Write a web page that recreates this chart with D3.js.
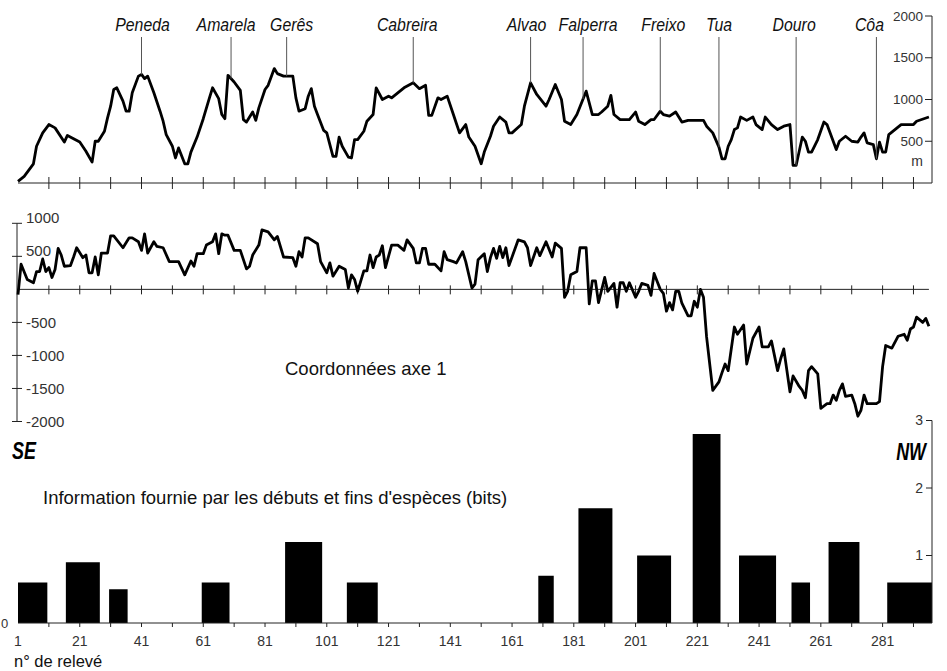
<!DOCTYPE html>
<html><head><meta charset="utf-8">
<script src="https://cdn.jsdelivr.net/npm/d3@7"></script>
<style>
body{margin:0;background:#fff}
svg{display:block;font-family:"Liberation Sans",Arial,sans-serif}
</style></head><body>
<svg id="chart" width="947" height="671"></svg>
<script>
// altitude profile (m) along the transect, by record number
var elevRec = [1,3,6,7,9,11,13,16,17,21,23,25,26,27,29,30,31,32,33,35,36,37,38,40,41,42,43,45,47,48,49,51,52,53,55,56,57,59,61,63,64,66,67,68,69,71,73,74,75,77,78,79,81,82,84,85,87,90,91,92,94,95,96,97,98,100,101,103,104,105,106,108,109,110,111,113,114,116,117,119,121,122,124,126,129,131,133,134,135,137,138,140,142,143,144,146,147,149,151,152,154,155,157,159,160,161,164,165,167,169,172,173,175,177,178,180,182,185,187,189,190,192,193,194,196,199,201,202,204,206,207,209,210,212,214,216,218,223,224,226,228,229,230,231,232,233,234,235,237,239,240,242,243,245,247,249,251,252,253,255,256,257,258,260,262,263,266,267,269,271,273,274,275,276,278,279,280,281,282,283,285,287,291,292,296];
var elevVal = [20,80,230,440,600,700,660,490,570,490,380,250,500,500,620,780,920,1120,1140,980,860,860,1080,1280,1300,1250,1280,1080,860,740,580,440,300,420,230,230,370,550,770,1020,1140,1010,820,770,1290,1210,1110,760,730,850,750,900,1120,1170,1370,1310,1280,1280,1020,860,890,1040,1130,920,820,630,600,320,320,550,440,310,300,520,520,620,740,820,1140,1000,1040,1020,1080,1140,1200,1130,1170,810,810,1020,1000,1040,820,710,600,700,550,440,230,370,560,680,790,730,600,600,700,920,1200,1060,920,1000,1180,1000,740,700,820,1100,820,820,850,920,1050,820,760,760,850,740,700,760,760,860,820,800,850,730,750,750,680,600,430,290,290,440,520,640,660,790,750,790,700,640,790,700,640,680,700,210,210,550,500,370,370,520,730,700,400,500,560,500,490,550,600,480,460,290,490,370,370,580,640,700,700,740,790];

// coordinates on axis 1
var coordRec = [1,2,4,6,7,8,9,10,11,12,13,14,15,16,18,19,20,22,23,24,25,26,27,28,30,31,32,35,37,38,40,41,42,43,45,46,48,50,53,55,57,58,59,61,62,64,65,66,67,68,69,71,73,75,76,77,79,80,82,84,85,87,90,91,92,93,94,95,98,99,101,102,103,105,107,108,109,110,111,113,114,115,116,117,118,119,120,122,124,126,127,129,130,131,132,133,134,136,138,139,140,142,143,145,146,148,149,150,152,153,154,155,156,157,158,159,160,163,165,166,167,169,170,172,174,175,177,178,179,180,182,183,185,186,187,188,189,191,192,193,194,195,196,197,198,199,201,202,203,205,206,207,208,209,210,211,212,213,214,215,216,218,219,220,221,222,223,224,226,228,229,230,231,233,234,236,237,239,241,242,244,245,247,248,249,251,252,254,255,256,257,258,260,261,263,264,265,266,267,268,269,271,272,273,274,275,276,279,280,281,282,284,286,288,289,290,291,292,294,295,296];
var coordVal = [-80,380,150,100,270,270,460,270,330,180,300,620,520,350,360,490,630,480,520,250,250,490,220,550,550,810,810,630,780,780,720,590,840,550,720,650,630,420,420,220,430,350,540,540,670,720,840,540,840,820,820,590,590,310,350,520,670,900,870,750,800,490,480,350,570,490,780,780,690,420,250,400,200,350,300,20,220,150,-30,280,280,520,330,490,520,660,330,670,670,590,750,620,400,400,620,620,380,380,280,570,450,420,400,570,420,20,80,450,540,270,480,620,470,650,480,630,360,750,720,630,360,630,510,720,490,700,620,-120,-30,220,270,630,630,-220,130,130,-200,180,-30,30,90,-270,100,100,-30,100,-120,-30,90,60,-90,240,120,0,-60,-330,-200,-310,-30,-30,-210,-400,-400,-180,-270,0,-120,-720,-1530,-1400,-1260,-1130,-1230,-570,-680,-540,-1130,-740,-570,-870,-870,-780,-1230,-1050,-900,-1550,-1310,-1470,-1530,-1640,-1230,-1170,-1280,-1800,-1730,-1730,-1600,-1680,-1530,-1430,-1620,-1600,-1730,-1920,-1830,-1600,-1730,-1730,-1700,-1170,-850,-890,-710,-680,-770,-600,-570,-420,-500,-440,-560];

// named summits / valleys
var peakNames = ['Peneda','Amarela','Gerês','Cabreira','Alvao','Falperra','Freixo','Tua','Douro','Côa'];
var peakRec = [41,70,88,129,167,184,209,228,253,279];

// information from species beginnings and ends (bits)
var barFrom = [1,17,31,61,88,108,170,183,202,220,235,252,264,283];
var barTo = [10,27,36,69,99,117,174,193,212,228,246,257,273,297];
var barBits = [0.6,0.9,0.5,0.6,1.2,0.6,0.7,1.7,1.0,2.8,1.0,0.6,1.2,0.6];

var elevTicks = [500,1000,1500,2000];
var coordTicks = [1000,500,-500,-1000,-1500,-2000];
var bitTicks = [1,2,3];
var recLabels = [1,21,41,61,81,101,121,141,161,181,201,221,241,261,281];

var svg = d3.select('#chart');
svg.append('rect').attr('width',947).attr('height',671).attr('fill','white');

var x = d3.scaleLinear().domain([1,297]).range([18,932]);
var yElev = d3.scaleLinear().domain([0,2000]).range([183,16]);
var yCoord = d3.scaleLinear().domain([-2000,1000]).range([421.5,223.3]);
var yBits = d3.scaleLinear().domain([0,3]).range([623,420.5]);
var tickRecs = d3.range(11,292,10);
var ink = '#222';
// names are not quite centred on their leader lines in the figure
var nameShift = [1,-5,5,-6,-4,5,3,0,-2,-7];

function hline(g,x1,x2,y){
    g.append('line').attr('x1',x1).attr('x2',x2).attr('y1',y).attr('y2',y).attr('stroke',ink).attr('stroke-width',1);
}
function vline(g,xx,y1,y2,col){
    g.append('line').attr('x1',xx).attr('x2',xx).attr('y1',y1).attr('y2',y2).attr('stroke',col||ink).attr('stroke-width',1);
}
// text squeezed horizontally like the condensed type of the figure
function txt(g,xx,yy,s,size,opt){
    opt = opt || {};
    return g.append('text')
        .attr('transform','translate('+xx+','+yy+') scale('+(opt.sx||1)+',1)')
        .attr('text-anchor',opt.anchor||'start')
        .attr('dy',opt.dy||0)
        .attr('font-size',size)
        .attr('font-style',opt.style||'normal')
        .attr('font-weight',opt.weight||'normal')
        .attr('fill',opt.fill||'#111')
        .text(s);
}

// ---------- top: altitude profile ----------
var gTop = svg.append('g');
hline(gTop, x(1), x(297), yElev(0));
tickRecs.forEach(function(r){ vline(gTop, x(r), yElev(0)-6, yElev(0)+6); });
vline(gTop, x(297), yElev(2000), yElev(0));
elevTicks.forEach(function(v){
    hline(gTop, x(297)-7, x(297), yElev(v));
    txt(gTop, x(297)-9, yElev(v), v, 13.5, {anchor:'end', dy:'0.35em', fill:'#333'});
});
txt(gTop, 917, 166, 'm', 14, {anchor:'middle', fill:'#333'});

var elevPts = elevRec.map(function(r,i){ return [r, elevVal[i]]; });
gTop.append('path')
    .attr('d', d3.line().x(function(d){return x(d[0]);}).y(function(d){return yElev(d[1]);})(elevPts))
    .attr('fill','none').attr('stroke','black').attr('stroke-width',2.8).attr('stroke-linejoin','round');

function elevAt(r){
    var i = d3.bisector(function(d){return d[0];}).left(elevPts, r);
    if (i <= 0) return elevPts[0][1];
    if (i >= elevPts.length) return elevPts[elevPts.length-1][1];
    var a = elevPts[i-1], b = elevPts[i];
    return a[1] + (b[1]-a[1])*(r-a[0])/(b[0]-a[0]);
}
peakNames.forEach(function(name,i){
    var px = x(peakRec[i]);
    vline(gTop, px, 37, yElev(elevAt(peakRec[i])), '#555');
    txt(gTop, px + nameShift[i], 31, name, 18, {anchor:'middle', style:'italic', sx:0.88});
});

// ---------- middle: coordinates on axis 1 ----------
var gMid = svg.append('g');
vline(gMid, 17, yCoord(1000), yCoord(-2000));
coordTicks.forEach(function(v){
    hline(gMid, 12, 22, yCoord(v));
    txt(gMid, 26, yCoord(v), v, 15, {dy: v>0 ? '-0.05em' : '0.35em', fill:'#333'});
});
hline(gMid, 17, x(296), yCoord(0));
tickRecs.forEach(function(r){ vline(gMid, x(r), yCoord(0)-4, yCoord(0)+5); });
var coordPts = coordRec.map(function(r,i){ return [r, coordVal[i]]; });
gMid.append('path')
    .attr('d', d3.line().x(function(d){return x(d[0]);}).y(function(d){return yCoord(d[1]);})(coordPts))
    .attr('fill','none').attr('stroke','black').attr('stroke-width',2.8).attr('stroke-linejoin','round');
txt(gMid, 285, 375, 'Coordonnées axe 1', 18.5, {sx:1});

txt(svg, 12, 459, 'SE', 23, {style:'italic', weight:'bold', sx:0.78, fill:'black'});
txt(svg, 926, 460, 'NW', 23, {anchor:'end', style:'italic', weight:'bold', sx:0.78, fill:'black'});

// ---------- bottom: information bars ----------
var gBot = svg.append('g');
gBot.selectAll('rect.bar').data(barBits).enter().append('rect')
    .attr('class','bar')
    .attr('x', function(d,i){ return Math.max(x(1), x(barFrom[i]-0.5)); })
    .attr('width', function(d,i){ return Math.min(x(297), x(barTo[i]+0.5)) - Math.max(x(1), x(barFrom[i]-0.5)); })
    .attr('y', function(d){ return yBits(d); })
    .attr('height', function(d){ return yBits(0) - yBits(d); })
    .attr('fill','black');
hline(gBot, x(1), x(297), yBits(0));
tickRecs.forEach(function(r){ vline(gBot, x(r), yBits(0), yBits(0)+4); });
recLabels.forEach(function(r){
    txt(gBot, x(r), 646, r, 14, {anchor:'middle', fill:'#333'});
});
vline(gBot, x(297), yBits(3), yBits(0));
bitTicks.forEach(function(v){
    hline(gBot, x(297)-6, x(297), yBits(v));
    txt(gBot, x(297)-9, yBits(v), v, 14, {anchor:'end', dy:'0.35em', fill:'#333'});
});
txt(gBot, 1, yBits(0), 0, 13, {dy:'0.35em', fill:'#333'});
txt(gBot, 43, 504, "Information fournie par les débuts et fins d'espèces (bits)", 18.5);
txt(gBot, 14, 667, 'n° de relevé', 16.5);
</script>
</body></html>
